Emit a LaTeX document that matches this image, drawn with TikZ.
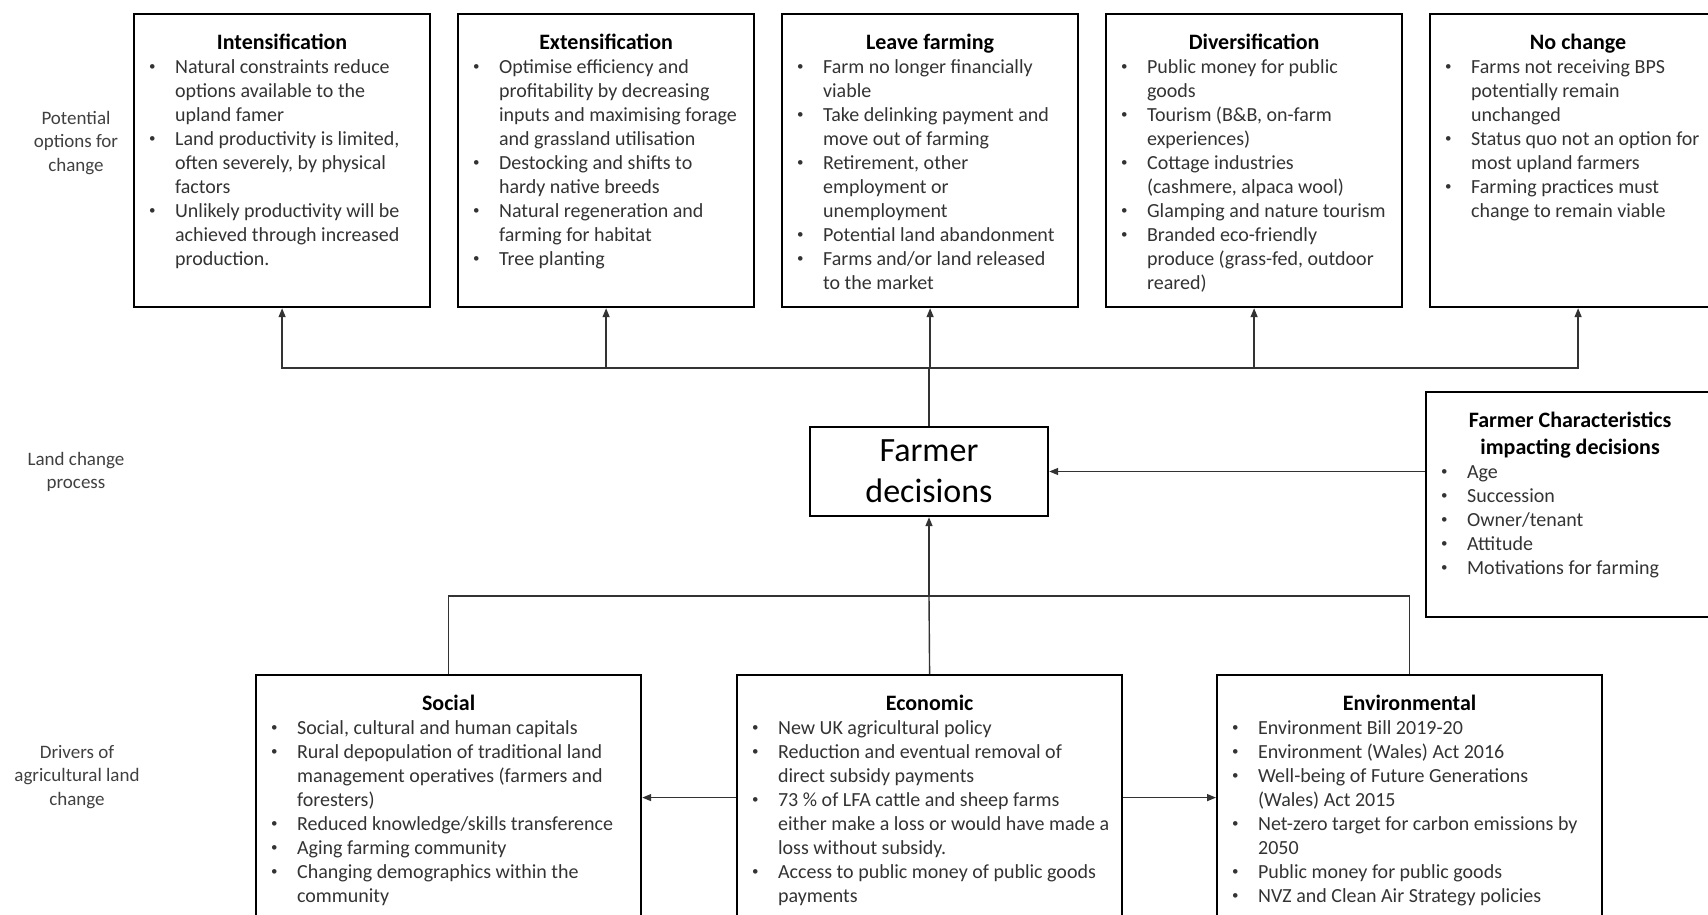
\documentclass[tikz,border=0pt]{standalone}
\usepackage{fontspec}
\setmainfont{Carlito}
\usetikzlibrary{arrows.meta,positioning}

% bullet item with hanging indent, \nl breaks a line inside the item
\newcommand{\bitem}{\par\noindent\hangindent=19.5pt\hangafter=1%
    \hbox to 19.5pt{\hskip6.5pt\raisebox{1.3pt}{\fontsize{6.5}{7}\selectfont\textbullet}\hfil}}
\newcommand{\nl}{\hfil\break}
% centred bold heading of a box
\newcommand{\boxhead}[1]{{\centering\color{black}\fontsize{11}{13.5}\selectfont\bfseries\rule{0pt}{17.5pt}#1\par}}
% text block of a box: height, width, contents
\newcommand{\panel}[3]{\parbox[t][#1][t]{#2}{\raggedright #3}}

\begin{document}
\begin{tikzpicture}[x=0.5pt,y=-0.5pt]  %units are pixels of the figure
    \useasboundingbox (0,0) rectangle (1708,915);
    \tikzstyle{box} = [draw,line width=1.1pt,anchor=north west,inner xsep=1pt,inner ysep=0pt,
                       font=\fontsize{10}{12}\selectfont,text=black!80]
    \tikzstyle{side} = [align=center,font=\fontsize{9.5}{11.75}\selectfont,text=black!75]
    \tikzstyle{link} = [line width=0.7pt,black!80]
    \tikzstyle{arr} = [link,-{Triangle[length=4.5pt,width=3.5pt]}]

    %row labels
    \node[side] (lbltop) at (76,143) {Potential\\options for\\change};
    \node[side] (lblmid) at (76,472) {Land change\\process};
    \node[side] (lblbot) at (77,777) {Drivers of\\agricultural land\\change};

    %options for change, top row
    \node[box] (intens) at (133,13) {\panel{146.5pt}{146pt}{\boxhead{Intensification}
        \bitem Natural constraints reduce\nl options available to the\nl upland famer
        \bitem Land productivity is limited,\nl often severely, by physical\nl factors
        \bitem Unlikely productivity will be\nl achieved through increased\nl production.}};
    \node[box] (extens) at (457,13) {\panel{146.5pt}{146pt}{\boxhead{Extensification}
        \bitem Optimise efficiency and\nl profitability by decreasing\nl inputs and maximising forage\nl and grassland utilisation
        \bitem Destocking and shifts to\nl hardy native breeds
        \bitem Natural regeneration and\nl farming for habitat
        \bitem Tree planting}};
    \node[box] (leave) at (781,13) {\panel{146.5pt}{146pt}{\boxhead{Leave farming}
        \bitem Farm no longer financially\nl viable
        \bitem Take delinking payment and\nl move out of farming
        \bitem Retirement, other\nl employment or\nl unemployment
        \bitem Potential land abandonment
        \bitem Farms and/or land released\nl to the market}};
    \node[box] (divers) at (1105,13) {\panel{146.5pt}{146pt}{\boxhead{Diversification}
        \bitem Public money for public\nl goods
        \bitem Tourism (B\&B, on-farm\nl experiences)
        \bitem Cottage industries\nl (cashmere, alpaca wool)
        \bitem Glamping and nature tourism
        \bitem Branded eco-friendly\nl produce (grass-fed, outdoor\nl reared)}};
    \node[box] (nochange) at (1429,13) {\panel{146.5pt}{146pt}{\boxhead{No change}
        \bitem Farms not receiving BPS\nl potentially remain\nl unchanged
        \bitem Status quo not an option for\nl most upland farmers
        \bitem Farming practices must\nl change to remain viable}};

    %land change process
    \node[draw,line width=1.2pt,minimum width=119pt,minimum height=44.5pt,align=center,
          font=\fontsize{17}{20.5}\selectfont] (decide) at (929,471.5) {Farmer\\decisions};
    \node[box] (traits) at (1425,391) {\panel{112.5pt}{142pt}{\boxhead{Farmer Characteristics\\impacting decisions}
        \bitem Age
        \bitem Succession
        \bitem Owner/tenant
        \bitem Attitude
        \bitem Motivations for farming}};

    %drivers, bottom row
    \node[box] (social) at (255,674) {\panel{122.5pt}{190.5pt}{\boxhead{Social}
        \bitem Social, cultural and human capitals
        \bitem Rural depopulation of traditional land\nl management operatives (farmers and\nl foresters)
        \bitem Reduced knowledge/skills transference
        \bitem Aging farming community
        \bitem Changing demographics within the\nl community}};
    \node[box] (econ) at (736,674) {\panel{122.5pt}{190.5pt}{\boxhead{Economic}
        \bitem New UK agricultural policy
        \bitem Reduction and eventual removal of\nl direct subsidy payments
        \bitem 73 \% of LFA cattle and sheep farms\nl either make a loss or would have made a\nl loss without subsidy.
        \bitem Access to public money of public goods\nl payments}};
    \node[box] (env) at (1216,674) {\panel{122.5pt}{190.5pt}{\boxhead{Environmental}
        \bitem Environment Bill 2019-20
        \bitem Environment (Wales) Act 2016
        \bitem Well-being of Future Generations\nl (Wales) Act 2015
        \bitem Net-zero target for carbon emissions by\nl 2050
        \bitem Public money for public goods
        \bitem NVZ and Clean Air Strategy policies}};

    %connectors
    \coordinate (split) at (929,368);
    \coordinate (join) at (929,596);
    \draw[link] (decide.north) -- (split);
    \foreach \b in {intens,extens,leave,divers,nochange}
        \draw[arr] (split) -| (\b.south);
    \draw[arr] (traits.west |- decide.east) -- (decide.east);
    \draw[arr] (join) -- (decide.south);
    \draw[link] (social.north) |- (join) -| (env.north);
    \draw[link] (join) -- (econ.north);
    \draw[arr] (econ.west) -- (social.east);
    \draw[arr] (econ.east) -- (env.west);
\end{tikzpicture}
\end{document}
